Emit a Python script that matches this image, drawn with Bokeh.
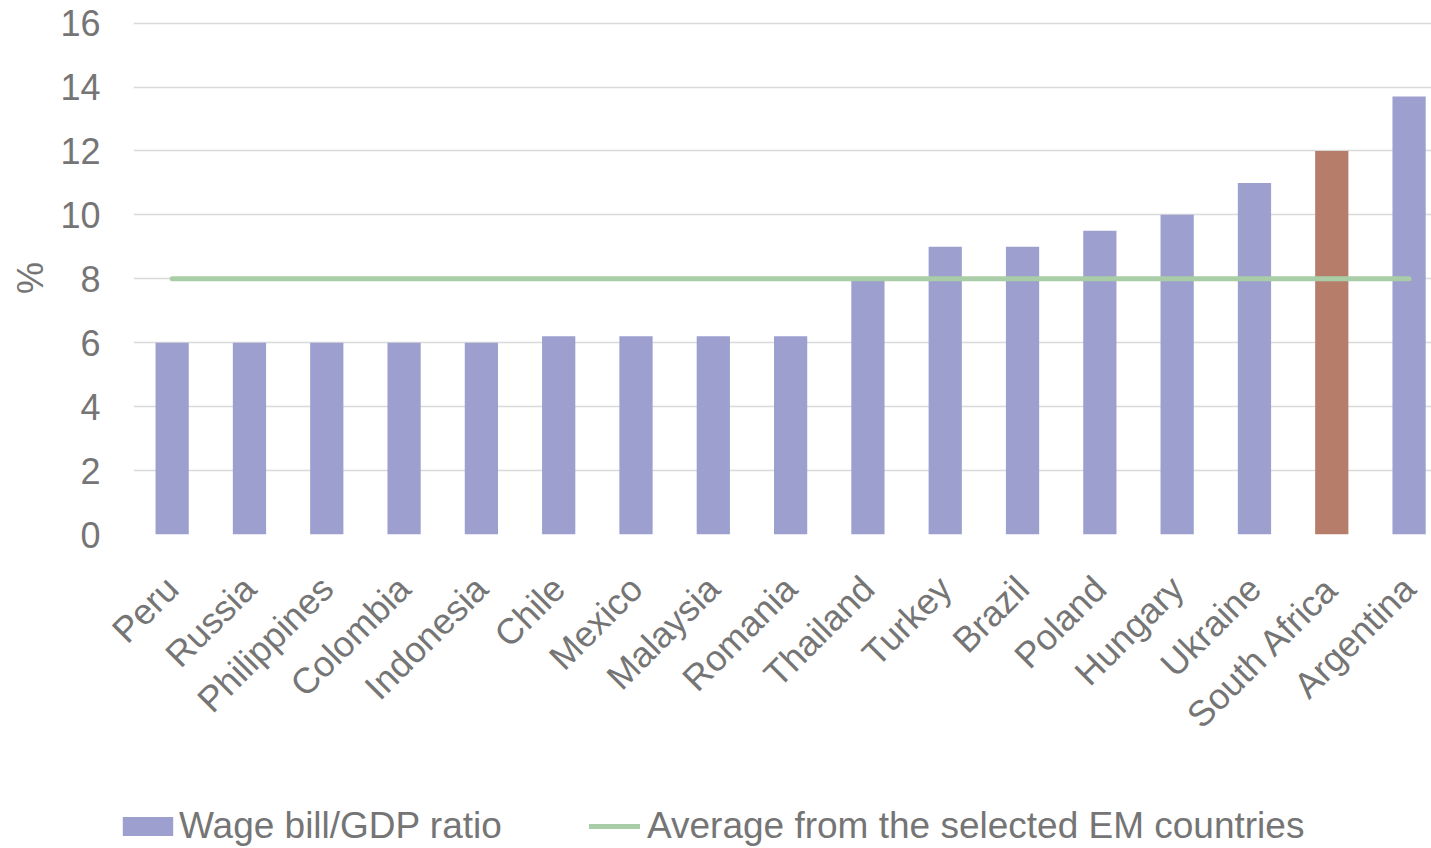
import math
from bokeh.plotting import figure
from bokeh.layouts import column, row
from bokeh.models import Range1d, FixedTicker, Legend, LegendItem, ColumnDataSource
from bokeh.embed import file_html
from bokeh.resources import INLINE

countries = ["Peru", "Russia", "Philippines", "Colombia", "Indonesia", "Chile", "Mexico",
             "Malaysia", "Romania", "Thailand", "Turkey", "Brazil", "Poland", "Hungary",
             "Ukraine", "South Africa", "Argentina"]
wage_bill = [6, 6, 6, 6, 6, 6.2, 6.2, 6.2, 6.2, 8, 9, 9, 9.5, 10, 11, 12, 13.7]
em_average = [8] * len(countries)
y_ticks = [0, 2, 4, 6, 8, 10, 12, 14, 16]
highlight = "South Africa"
bar_label = "Wage bill/GDP ratio"
line_label = "Average from the selected EM countries"

BAR = "#9D9FCE"
HL = "#B77D6B"
LINE = "#A9CDA6"
TXT = "#757575"
FONT = "Liberation Sans"
FS = "36px"
LFS = "37px"

xs = list(range(len(countries)))
src = ColumnDataSource(dict(
    x=xs, v=wage_bill, avg=em_average,
    c=[HL if c == highlight else BAR for c in countries],
))

p = figure(width=1431, height=780, output_backend="svg", toolbar_location=None,
           x_range=Range1d(-0.5, 16.29), y_range=Range1d(0, 16.05),
           min_border_left=133, min_border_right=0, min_border_top=21,
           min_border_bottom=246)
p.outline_line_color = None
p.background_fill_color = "white"
p.border_fill_color = "white"

bars = p.vbar(x="x", top="v", width=0.43, bottom=0, fill_color="c", line_color=None, source=src)
avg = p.line(x="x", y="avg", line_width=5, line_color=LINE, line_cap="round", source=src)

p.xgrid.grid_line_color = None
p.ygrid.grid_line_color = "#D9D9D9"
p.ygrid.grid_line_width = 1.5
p.ygrid.ticker = FixedTicker(ticks=y_ticks)

ya = p.yaxis[0]
ya.ticker = FixedTicker(ticks=y_ticks)
ya.axis_label = "%"
ya.axis_label_text_font = FONT
ya.axis_label_text_font_size = FS
ya.axis_label_text_font_style = "normal"
ya.axis_label_text_color = TXT
ya.axis_label_standoff = 6
ya.major_label_text_font = FONT
ya.major_label_text_font_size = FS
ya.major_label_text_color = TXT
ya.major_label_standoff = 33
ya.axis_line_color = None
ya.major_tick_line_color = None
ya.minor_tick_line_color = None
ya.major_tick_out = 0

xa = p.xaxis[0]
xa.ticker = FixedTicker(ticks=xs)
xa.major_label_overrides = {i: c for i, c in zip(xs, countries)}
xa.major_label_orientation = math.pi / 4
xa.major_label_text_font = FONT
xa.major_label_text_font_size = FS
xa.major_label_text_color = TXT
xa.major_label_standoff = 48
xa.axis_line_color = None
xa.major_tick_line_color = None
xa.minor_tick_line_color = None
xa.major_tick_out = 0

# legend strip below the chart (same data, drawn outside the strip's visible range)
lg = figure(width=1431, height=68, output_backend="svg", toolbar_location=None,
            x_axis_type=None, y_axis_type=None, min_border=0,
            x_range=Range1d(-0.5, 16.29), y_range=Range1d(100, 101))
lg.outline_line_color = None
lg.xgrid.grid_line_color = None
lg.ygrid.grid_line_color = None
lg.background_fill_color = "white"
lg.border_fill_color = "white"
lg_bar = lg.vbar(x="x", top="v", width=0.43, bottom=0, fill_color="c", line_color=None, source=src)
lg_line = lg.line(x="x", y="avg", line_width=5, line_color=LINE, line_cap="round", source=src)


def make_legend(item, loc, gw, gh, standoff):
    leg = Legend(items=[item], orientation="horizontal", location=loc)
    leg.glyph_width = gw
    leg.glyph_height = gh
    leg.label_standoff = standoff
    leg.padding = 0
    leg.margin = 0
    leg.border_line_color = None
    leg.background_fill_alpha = 0
    leg.label_text_font = FONT
    leg.label_text_font_size = LFS
    leg.label_text_color = TXT
    return leg


lg.add_layout(make_legend(LegendItem(label=bar_label, renderers=[lg_bar], index=0), (116, 1), 63, 24, 0), "center")
lg.add_layout(make_legend(LegendItem(label=line_label, renderers=[lg_line]), (589, 1), 51, 20, 7), "center")

layout = column(p, row(lg, spacing=0), spacing=0)
open("out.html", "w").write(file_html(layout, INLINE))
